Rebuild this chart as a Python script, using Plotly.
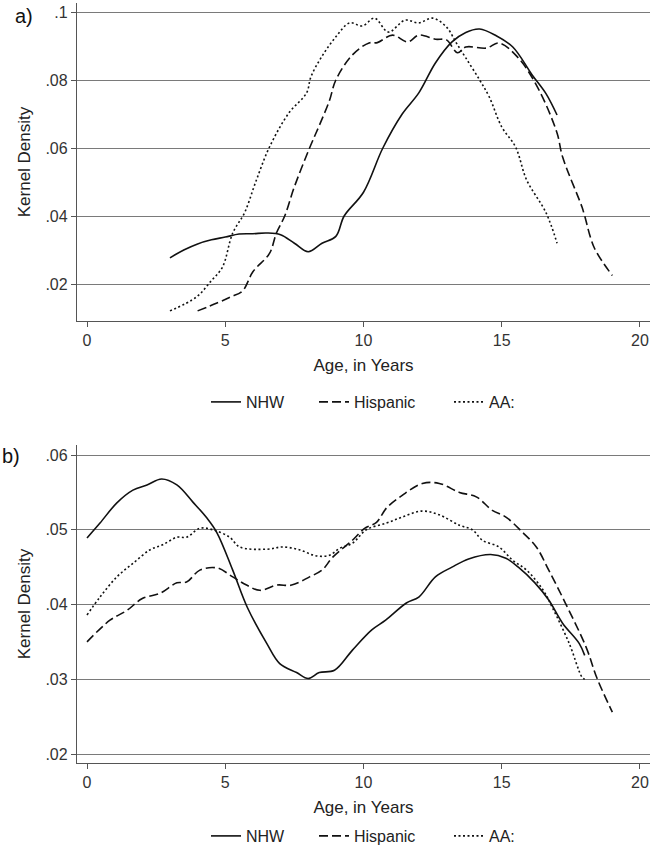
import plotly.graph_objects as go

# ---------------- Panel a) data ----------------
a_nhw_age = [3.0, 3.5, 4.0, 4.5, 5.0, 5.5, 6.0, 6.5, 7.0, 7.5, 8.0, 8.5, 9.0, 9.3, 10.0, 10.7,
             11.4, 12.0, 12.6, 13.2, 13.7, 14.2, 14.8, 15.4, 16.1, 16.6, 17.0]
a_nhw_val = [0.0277, 0.0300, 0.0318, 0.0330, 0.0338, 0.0347, 0.0348, 0.0350, 0.0345, 0.0320, 0.0295,
             0.0320, 0.0340, 0.0400, 0.0470, 0.0600, 0.0700, 0.0762, 0.0850, 0.0912, 0.0940, 0.0950,
             0.0930, 0.0897, 0.0815, 0.0760, 0.0697]

a_his_age = [4.0, 4.7, 5.2, 5.63, 6.0, 6.6, 6.85, 7.15, 7.5, 8.05, 8.41, 8.77, 9.0, 9.6, 10.2, 10.5,
             11.05, 11.6, 12.0, 12.6, 13.0, 13.4, 13.7, 14.45, 14.9, 15.6, 16.35, 17.0, 17.2, 17.9,
             18.0, 18.35, 19.0]
a_his_val = [0.0121, 0.0144, 0.0162, 0.0180, 0.0236, 0.0290, 0.0350, 0.0400, 0.0486, 0.0600, 0.0668,
             0.0740, 0.0800, 0.0874, 0.0909, 0.0910, 0.0932, 0.0912, 0.0932, 0.0920, 0.0918, 0.0880,
             0.0897, 0.0894, 0.0909, 0.0865, 0.0770, 0.0644, 0.0574, 0.0427, 0.0400, 0.0306, 0.0225]

a_aa_age = [3.0, 3.96, 4.5, 4.9, 5.27, 5.7, 6.1, 6.6, 7.3, 7.94, 8.1, 8.5, 9.0, 9.5, 9.96, 10.4,
            10.9, 11.5, 12.0, 12.5, 13.0, 13.35, 13.7, 14.2, 14.55, 15.0, 15.5, 15.9, 16.6, 17.0]
a_aa_val = [0.0121, 0.0162, 0.0210, 0.0250, 0.0350, 0.0410, 0.0500, 0.0603, 0.0703, 0.0762, 0.0810,
            0.0870, 0.0927, 0.0968, 0.0959, 0.0982, 0.0941, 0.0976, 0.0968, 0.0982, 0.0956, 0.0910,
            0.0865, 0.0800, 0.0750, 0.0662, 0.0603, 0.0506, 0.0410, 0.0320]

# ---------------- Panel b) data ----------------
b_nhw_age = [0.0, 0.47, 1.08, 1.66, 2.17, 2.7, 3.25, 3.83, 4.33, 4.7, 5.27, 5.8, 6.5, 6.97, 7.58,
             8.0, 8.4, 8.95, 9.6, 10.3, 10.8, 11.55, 12.0, 12.6, 13.2, 13.8, 14.6, 15.15, 15.6,
             16.2, 16.7, 17.2, 17.8, 18.0]
b_nhw_val = [0.0489, 0.0509, 0.0536, 0.0553, 0.0560, 0.0568, 0.0560, 0.0537, 0.0516, 0.0496, 0.0446,
             0.0396, 0.0348, 0.0321, 0.0309, 0.0301, 0.0309, 0.0312, 0.0339, 0.0366, 0.0379, 0.0402,
             0.0410, 0.0437, 0.0450, 0.0461, 0.0467, 0.0462, 0.0450, 0.0429, 0.0406, 0.0375, 0.0348,
             0.0332]

b_his_age = [0.0, 0.83, 1.44, 2.0, 2.64, 3.25, 3.6, 4.08, 4.7, 5.27, 5.77, 6.25, 6.86, 7.4, 8.05,
             8.5, 8.88, 9.6, 10.04, 10.47, 10.83, 11.4, 12.13, 12.74, 13.47, 14.08, 14.66, 15.15,
             15.74, 16.25, 16.7, 17.3, 18.05, 18.45, 19.0]
b_his_val = [0.0350, 0.0379, 0.0392, 0.0408, 0.0415, 0.0429, 0.0430, 0.0446, 0.0449, 0.0437, 0.0426,
             0.0419, 0.0426, 0.0426, 0.0437, 0.0446, 0.0463, 0.0486, 0.0502, 0.0510, 0.0529, 0.0546,
             0.0562, 0.0562, 0.0550, 0.0544, 0.0526, 0.0517, 0.0497, 0.0477, 0.0446, 0.0402, 0.0343,
             0.0301, 0.0256]

b_aa_age = [0.0, 0.47, 1.08, 1.66, 2.27, 2.74, 3.25, 3.6, 4.08, 4.55, 5.16, 5.52, 6.5, 7.08, 7.7,
            8.3, 8.77, 9.13, 9.6, 10.1, 10.83, 11.4, 12.1, 12.74, 13.47, 13.94, 14.3, 14.9, 15.4,
            15.9, 16.5, 16.83, 17.44, 17.9, 18.0]
b_aa_val = [0.0386, 0.0410, 0.0437, 0.0455, 0.0473, 0.0480, 0.0490, 0.0490, 0.0502, 0.0500, 0.0490,
            0.0477, 0.0474, 0.0477, 0.0473, 0.0465, 0.0466, 0.0475, 0.0482, 0.0500, 0.0509, 0.0517,
            0.0525, 0.0520, 0.0506, 0.0500, 0.0486, 0.0477, 0.0459, 0.0446, 0.0419, 0.0396, 0.0348,
            0.0303, 0.0300]

x_tickvals = [0, 5, 10, 15, 20]
x_ticktext = ["0", "5", "10", "15", "20"]
a_tickvals = [0.02, 0.04, 0.06, 0.08, 0.1]
a_ticktext = [".02", ".04", ".06", ".08", ".1"]
b_tickvals = [0.02, 0.03, 0.04, 0.05, 0.06]
b_ticktext = [".02", ".03", ".04", ".05", ".06"]
series_names = ["NHW", "Hispanic", "AA:"]

# ---------------- Figure ----------------
W, H = 651, 853
FONT = "Liberation Sans, Arial, sans-serif"
styles = [dict(color="#111111", width=1.6, dash="solid"),
          dict(color="#111111", width=1.6, dash="9px,4px"),
          dict(color="#111111", width=1.6, dash="2px,2.5px")]

fig = go.Figure()
panel_a = [(a_nhw_age, a_nhw_val), (a_his_age, a_his_val), (a_aa_age, a_aa_val)]
panel_b = [(b_nhw_age, b_nhw_val), (b_his_age, b_his_val), (b_aa_age, b_aa_val)]

legend_names_a = ["legend", "legend2", "legend3"]
legend_names_b = ["legend4", "legend5", "legend6"]
for i, (xs, ys) in enumerate(panel_a):
    fig.add_trace(go.Scatter(x=xs, y=ys, mode="lines", name=series_names[i], line=styles[i],
                             line_shape="spline", xaxis="x", yaxis="y", legend=legend_names_a[i]))
for i, (xs, ys) in enumerate(panel_b):
    fig.add_trace(go.Scatter(x=xs, y=ys, mode="lines", name=series_names[i], line=styles[i],
                             line_shape="spline", xaxis="x2", yaxis="y2", legend=legend_names_b[i]))

def px2x(p):
    return p / W

def px2y(p):
    return 1 - p / H

xdom = [px2x(77), px2x(650)]
xrange_ = [-0.362, 20.362]
axis_common = dict(showline=True, linecolor="#555555", linewidth=1.3, ticks="outside", ticklen=5,
                   tickcolor="#555555", tickwidth=1.3, zeroline=False, automargin=False,
                   tickfont=dict(family=FONT, size=16, color="#333333"))

xa = dict(axis_common, domain=xdom, range=xrange_, tickvals=x_tickvals, ticktext=x_ticktext,
          showgrid=False,
          title=dict(text="Age, in Years", font=dict(family=FONT, size=17, color="#222222"), standoff=10))

fig.update_layout(
    template="none",
    width=W, height=H,
    margin=dict(l=0, r=0, t=0, b=0, pad=0),
    paper_bgcolor="white", plot_bgcolor="white",
    font=dict(family=FONT, size=16, color="#222222"),
    xaxis=dict(xa, anchor="y"),
    xaxis2=dict(xa, anchor="y2"),
    yaxis=dict(axis_common, domain=[px2y(321), px2y(3)], range=[0.00912, 0.10265],
               tickvals=a_tickvals, ticktext=a_ticktext, showgrid=True, gridcolor="#7a7a7a",
               gridwidth=1.2, anchor="x",
               title=dict(text="Kernel Density", font=dict(family=FONT, size=17, color="#222222"),
                          standoff=10)),
    yaxis2=dict(axis_common, domain=[px2y(763), px2y(445)], range=[0.0188, 0.06134],
                tickvals=b_tickvals, ticktext=b_ticktext, showgrid=True, gridcolor="#7a7a7a",
                gridwidth=1.2, anchor="x2",
                title=dict(text="Kernel Density", font=dict(family=FONT, size=17, color="#222222"),
                           standoff=10)),
    showlegend=True,
)

leg_common = dict(orientation="h", xanchor="left", bgcolor="rgba(0,0,0,0)",
                  font=dict(family=FONT, size=16, color="#222222"), borderwidth=0)
leg_x = [211, 319, 454]
for i, name in enumerate(legend_names_a):
    fig.update_layout({name: dict(leg_common, x=px2x(leg_x[i] - 5), y=px2y(402), yanchor="middle")})
for i, name in enumerate(legend_names_b):
    fig.update_layout({name: dict(leg_common, x=px2x(leg_x[i] - 5), y=0, yanchor="bottom")})

fig.add_annotation(text="a)", x=px2x(24), y=px2y(16), xref="paper", yref="paper",
                   xanchor="center", yanchor="middle",
                   showarrow=False, font=dict(family=FONT, size=20, color="#111111"))
fig.add_annotation(text="b)", x=px2x(11), y=px2y(456), xref="paper", yref="paper",
                   xanchor="center", yanchor="middle",
                   showarrow=False, font=dict(family=FONT, size=20, color="#111111"))

page_css = ("var s=document.createElement('style');"
            "s.innerHTML='html,body{margin:0;padding:0;overflow:hidden;height:853px;}"
            "body>div{height:853px;overflow:hidden;line-height:0;}';"
            "document.head.appendChild(s);")
fig.write_html("out.html", config={"displayModeBar": False}, post_script=page_css)
